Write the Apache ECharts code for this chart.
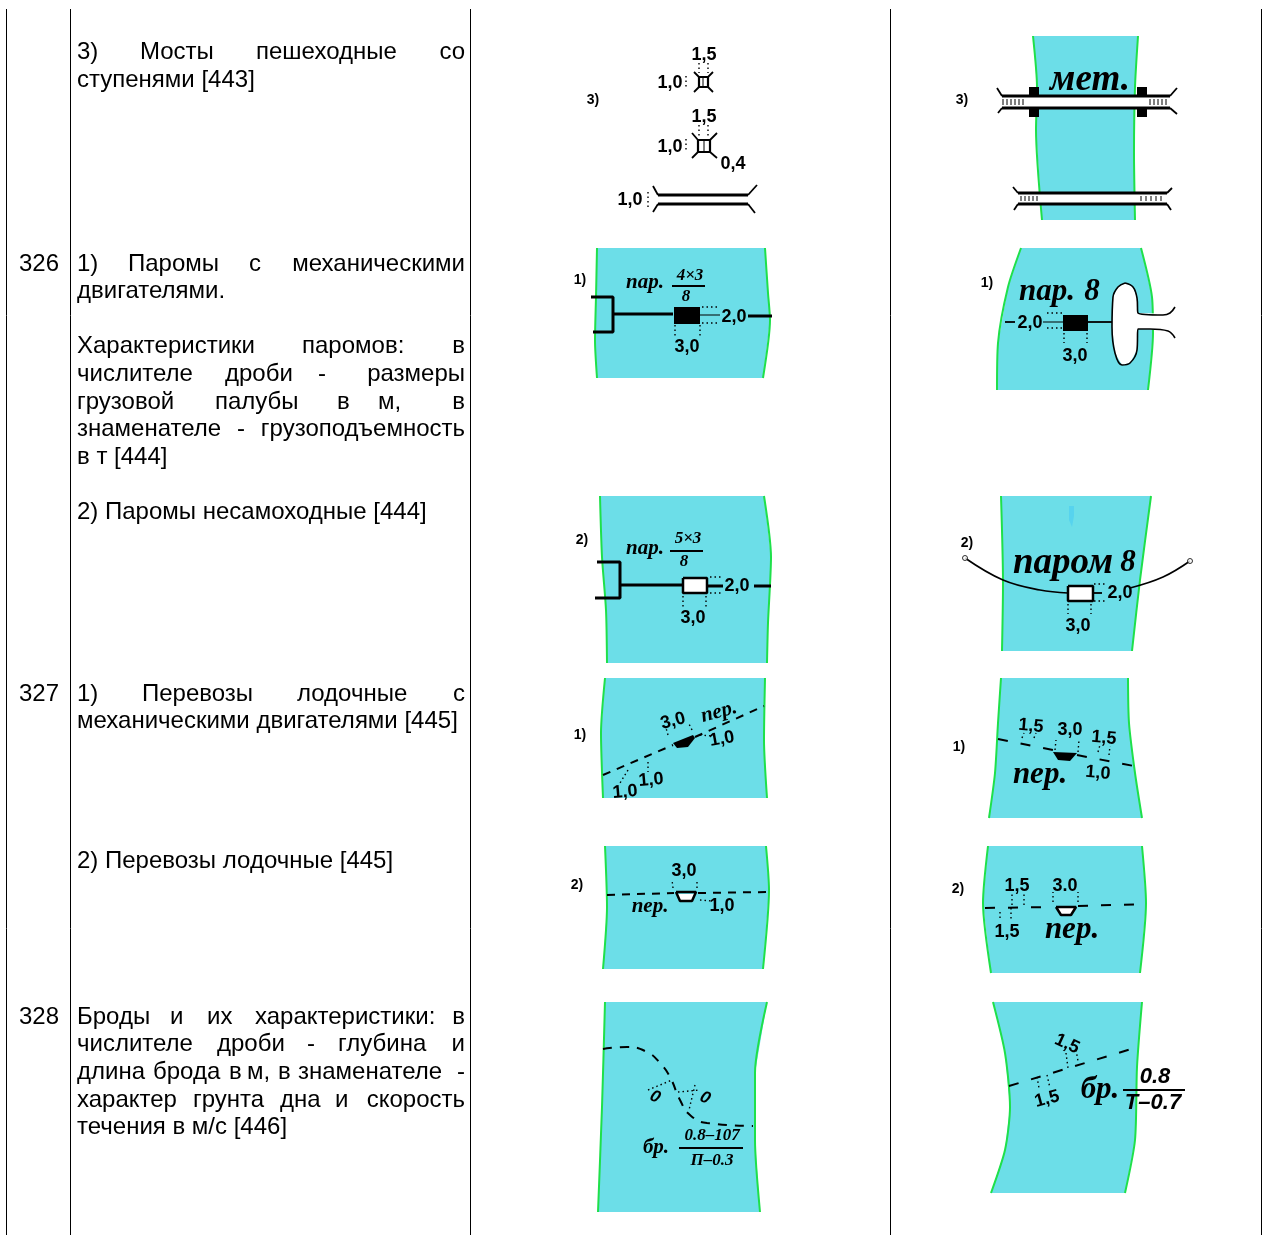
<!DOCTYPE html>
<html><head><meta charset="utf-8">
<style>html,body{margin:0;padding:0;background:#fff}#c{width:1262px;height:1235px}</style>
<script src="https://cdn.jsdelivr.net/npm/echarts@6/dist/echarts.min.js"></script>
</head><body><div id="c"></div>
<script>
// ---- table text: [text, x, y, horizontal anchor]
const rowNumbers = [["326",19,264],["327",19,694],["328",19,1017]];
const bodyWords = [
["3)",77,52],["Мосты",140,52],["пешеходные",256,52],["со",465,52,"right"],
["ступенями [443]",77,80],
["1)",77,264],["Паромы",128,264],["с",249,264],["механическими",465,264,"right"],
["двигателями.",77,291],
["Характеристики",77,346],["паромов:",302,346],["в",465,346,"right"],
["числителе",77,374],["дроби",225,374],["-",318,374],["размеры",465,374,"right"],
["грузовой",77,402],["палубы",215,402],["в",337,402],["м,",378,402],["в",465,402,"right"],
["знаменателе",77,429],["-",237,429],["грузоподъемность",465,429,"right"],
["в т [444]",77,457],
["2) Паромы несамоходные [444]",77,512],
["1)",77,694],["Перевозы",142,694],["лодочные",297,694],["с",465,694,"right"],
["механическими двигателями [445]",77,721],
["2) Перевозы лодочные [445]",77,861],
["Броды",77,1017],["и",170,1017],["их",207,1017],["характеристики:",255,1017],["в",465,1017,"right"],
["числителе",77,1044],["дроби",217,1044],["-",307,1044],["глубина",338,1044],["и",465,1044,"right"],
["длина",77,1072],["брода",153,1072],["в",229,1072],["м,",247,1072],["в",278,1072],["знаменателе",298,1072],["-",465,1072,"right"],
["характер",77,1100],["грунта",193,1100],["дна",280,1100],["и",335,1100],["скорость",465,1100,"right"],
["течения в м/с [446]",77,1127]
];
// ---- map drawing labels: [text, x, y, rotation in degrees]
const itemLabels = [["3)",593,100],["3)",962,100],["1)",580,280],["1)",987,283],["2)",582,540],["2)",967,543],
["1)",580,735],["1)",959,747],["2)",577,885],["2)",958,889]];
const dimLabels = [
["1,5",704,55],["1,0",670,83],["1,5",704,117],["1,0",670,147],["0,4",733,164],["1,0",630,200],
["2,0",734,317],["3,0",687,347],["2,0",1030,323],["3,0",1075,356],
["2,0",737,586],["3,0",693,618],["2,0",1120,593],["3,0",1078,626],
["3,0",673,721,15],["1,0",722,739,10],["1,0",651,780,5],["1,0",625,792,5],
["1,5",1031,726,-5],["3,0",1070,730],["1,5",1104,738,-5],["1,0",1098,773,-5],
["3,0",684,871],["1,0",722,906],["1,5",1017,886],["3.0",1065,886],["1,5",1007,932],
["1,5",1067,1044,-25],["1,5",1047,1099,15]
];
const roundLabels = [["0",655,1097,-25],["0",705,1098,-25]];
const nameLabelsHuge = [["мет.",1090,80],["паром",1063,563]];
const nameLabelsLarge = [["пар.",1047,292],["8",1092,292],["8",1128,563],["пер.",1040,775],["пер.",1072,930],["бр.",1100,1090]];
const nameLabelsSmall = [["пар.",645,283],["пар.",645,549],["пер.",719,712,15],["пер.",650,907],["бр.",656,1148]];
const fractionLabels = [["4×3",690,276],["8",686,297],["5×3",688,539],["8",684,562],["0.8–107",712,1136],["П–0.3",712,1161]];
const fractionLabelsLarge = [["0.8",1155,1077],["Т–0.7",1153,1103]];

// ---- river areas, as left bank and right bank outlines
const leftBanks = [
[[1033,36],[1037,87],[1036,130],[1042,220]],
[[597,248],[596,297],[595,340],[597,378]],
[[1021,248],[1008,287],[998,343],[997,390]],
[[600,496],[602,557],[606,610],[607,663]],
[[1001,496],[1003,583],[1002,651]],
[[605,678],[601,733],[603,798]],
[[1001,678],[998,723],[995,773],[989,818]],
[[605,846],[607,907],[603,969]],
[[988,846],[983,903],[991,973]],
[[605,1002],[602,1107],[598,1212]],
[[993,1002],[1005,1053],[1010,1107],[1005,1150],[991,1193]]
];
const rightBanks = [
[[1138,36],[1135,87],[1134,153],[1135,220]],
[[765,248],[768,293],[770,320],[763,378]],
[[1141,248],[1152,297],[1153,333],[1148,390]],
[[764,496],[771,557],[768,623],[767,663]],
[[1151,496],[1140,580],[1132,651]],
[[765,678],[764,740],[767,798]],
[[1128,678],[1129,723],[1135,773],[1142,818]],
[[766,846],[769,890],[763,969]],
[[1142,846],[1146,903],[1140,973]],
[[767,1002],[755,1073],[755,1140],[760,1212]],
[[1142,1002],[1137,1067],[1135,1140],[1125,1193]]
];
// ---- filled shapes
const whiteShapes = [
[[1125,283],[1133,287],[1137,298],[1138,313],[1175,314],[1175,330],[1138,329],[1137,350],[1130,363],[1122,365],[1115,353],[1112,327],[1113,297],[1118,287]],
[[1002,97],[1165,97],[1165,107],[1002,107]],
[[1018,194],[1167,194],[1167,203],[1018,203]],
[[658,196],[748,196],[748,203],[658,203]]
];
const whiteBoxes = [
[[683,578],[707,578],[707,593],[683,593]],
[[1068,586],[1093,586],[1093,601],[1068,601]],
[[676,894],[696,894],[692,901],[680,901]],
[[1056,908],[1076,908],[1071,915],[1061,915]]
];
const blackShapes = [
[[674,307],[700,307],[700,324],[674,324]],
[[1063,315],[1088,315],[1088,331],[1063,331]],
[[673,743],[693,735],[695,738],[688,747],[677,748]],
[[1053,752],[1077,753],[1070,761],[1058,760]],
[[1029,87],[1039,87],[1039,95],[1029,95]],
[[1029,108],[1039,108],[1039,117],[1029,117]],
[[1137,87],[1147,87],[1147,95],[1137,95]],
[[1137,108],[1147,108],[1147,117],[1137,117]]
];
const tintSpots = [[[1069,506],[1074,506],[1074,516],[1072,527],[1069,520]]];

// ---- strokes
const tableRules = [[[6.5,9],[6.5,1235]],[[70.5,9],[70.5,1235]],[[470.5,9],[470.5,1235]],[[890.5,9],[890.5,1235]],[[1261.5,9],[1261.5,1235]]];
const heavyLines = [
[[591,297],[613,297],[613,332],[593,332]],
[[613,314],[673,314]],[[748,316],[772,316]],
[[597,562],[620,562],[620,598],[595,598]],
[[620,585],[683,585]],[[707,586],[723,586]],[[754,586],[771,586]],
[[658,195],[748,195]],[[658,204],[748,204]],
[[1002,96],[1170,96]],[[1002,108],[1170,108]],
[[1018,193],[1167,193]],[[1018,204],[1167,204]]
];
const boxOutlines = [
[[683,578],[707,578],[707,593],[683,593],[683,578]],
[[1068,586],[1093,586],[1093,601],[1068,601],[1068,586]],
[[676,892],[696,892],[692,901],[680,901],[676,892]],
[[1056,907],[1076,907],[1071,915],[1061,915],[1056,907]]
];
const pierSymbols = [
[[699,77],[708,77],[708,87],[699,87],[699,77]],
[[698,140],[710,140],[710,152],[698,152],[698,140]]
];
const mediumLines = [
[[1088,322],[1112,322]],[[1005,322],[1015,322]],[[1093,593],[1102,593]],
[[679,1148],[743,1148]],[[672,286],[705,286]],[[670,551],[703,551]],
[[1123,1090],[1185,1090]],
[[653,186],[658,195]],[[653,212],[658,204]],[[748,195],[757,185]],[[748,204],[755,213]],
[[694,72],[699,77]],[[713,72],[708,77]],[[694,92],[699,87]],[[713,92],[708,87]],
[[692,133],[698,140]],[[717,133],[710,140]],[[692,158],[698,152]],[[717,158],[710,152]],
[[997,88],[1002,96]],[[998,113],[1002,108]],[[1170,96],[1177,88]],[[1170,108],[1177,114]],
[[1013,187],[1018,193]],[[1014,210],[1018,204]],[[1167,193],[1172,188]],[[1167,204],[1171,210]]
];
const thinLines = [
[[700,315],[720,315]],[[1043,322],[1063,322]],
[[703,78],[703,86]],[[704,141],[704,151]],
[[1003,99],[1003,105]],[[1007,99],[1007,105]],[[1011,99],[1011,105]],[[1015,99],[1015,105]],[[1019,99],[1019,105]],[[1023,99],[1023,105]],
[[1150,99],[1150,105]],[[1154,99],[1154,105]],[[1158,99],[1158,105]],[[1162,99],[1162,105]],[[1166,99],[1166,105]],
[[1021,196],[1021,201]],[[1025,196],[1025,201]],[[1029,196],[1029,201]],[[1033,196],[1033,201]],[[1037,196],[1037,201]],
[[1141,196],[1141,201]],[[1146,196],[1146,201]],[[1151,196],[1151,201]],[[1156,196],[1156,201]],[[1161,196],[1161,201]]
];
const curvedLines = [
[[1125,283],[1133,287],[1137,298],[1138,313],[1163,315],[1170,313],[1175,307]],
[[1175,338],[1168,331],[1150,329],[1138,329],[1137,350],[1130,363],[1122,365],[1115,353],[1112,327],[1113,297],[1118,287],[1125,283]],
[[965,558],[1003,580],[1040,590],[1068,593]],
[[1130,588],[1163,577],[1190,561]]
];
const dashedLinesShort = [
[[603,775],[673,745]],[[695,737],[764,706]],
[[607,895],[674,893]],[[698,893],[768,892]]
];
const dashedLinesLong = [
[[998,739],[1053,750]],[[1077,755],[1134,766]],
[[985,908],[1054,907]],[[1078,906],[1147,904]],
[[1009,1086],[1138,1047]]
];
const dashedCurve = [[603,1049],[627,1047],[647,1052],[660,1063],[670,1077],[680,1100],[690,1115],[707,1123],[753,1126]];
const dottedLines = [
[[699,63],[699,73]],[[708,63],[708,73]],[[686,76],[686,88]],
[[699,125],[699,136]],[[708,125],[708,136]],[[686,139],[686,151]],
[[648,192],[648,208]],
[[702,307],[718,307]],[[702,323],[718,323]],[[675,325],[675,337]],[[700,325],[700,337]],
[[1047,313],[1062,313]],[[1047,328],[1062,328]],[[1064,333],[1064,343]],[[1087,333],[1087,343]],
[[710,577],[723,577]],[[710,593],[723,593]],[[683,596],[683,607]],[[706,596],[706,607]],
[[1094,584],[1106,584]],[[1094,601],[1106,601]],[[1068,604],[1068,614]],[[1091,604],[1091,614]],
[[668,735],[666,728]],[[692,730],[689,724]],[[628,770],[620,783]],[[648,762],[648,772]],[[700,735],[712,736]],
[[1022,738],[1024,733]],[[1034,738],[1036,733]],[[1055,750],[1056,740]],[[1078,752],[1079,740]],[[1098,752],[1100,745]],[[1109,755],[1110,746]],
[[673,888],[672,880]],[[697,888],[697,880]],[[700,900],[712,901]],
[[1012,905],[1012,893]],[[1024,905],[1024,893]],[[1000,912],[1000,921]],[[1011,908],[1011,921]],[[1053,902],[1053,892]],[[1078,902],[1078,892]],
[[1037,1077],[1039,1088]],[[1047,1075],[1050,1088]],[[1066,1053],[1068,1068]],[[1076,1050],[1078,1061]],
[[648,1090],[672,1080]],[[678,1092],[700,1090]],[[695,1085],[689,1110]]
];
const anchorPoints = [[965,558],[1190,561]];

// ---- colours and drawing
const black = "#000";
const water = "#6cdee8", bank = "#1fe04a";
const sans = "'Liberation Sans', Arial, sans-serif";
const serif = "'Liberation Serif', 'DejaVu Serif', serif";

function polySeries(list, fill, z) {
  return {type:'custom', coordinateSystem:'cartesian2d', silent:true, z, clip:false,
    data:list.map((p,i)=>[p[0][0],p[0][1],i]), encode:{x:0,y:1},
    renderItem:(params,api)=>({type:'polygon', shape:{points:list[api.value(2)].map(q=>api.coord(q))},
      style:{fill}})};
}
function textSeries(list, font, z, defaultAlign, baseline) {
  return {type:'custom', coordinateSystem:'cartesian2d', silent:true, z, clip:false,
    data:list.map((t,i)=>[t[1],t[2],i]), encode:{x:0,y:1},
    renderItem:(params,api)=>{const t=list[api.value(2)], c=api.coord([t[1],t[2]]);
      return {type:'text', x:c[0], y:c[1], rotation:(baseline?0:(t[3]||0))*Math.PI/180,
        style:{text:t[0], font, fill:black,
          textAlign:baseline?(t[3]||'left'):(defaultAlign||'center'), textVerticalAlign:'middle'}};}};
}
function lineSeries(list, width, z, type, smooth) {
  return list.map(pts=>({type:'line', data:pts, symbol:'none', silent:true, z, smooth:smooth||false, clip:false,
    animation:false, lineStyle:{color:black,width,type:type||'solid'}}));
}
function bankSeries(list) {
  return list.map(pts=>({type:'line', data:pts, symbol:'none', silent:true, z:2, smooth:0.25, clip:false,
    animation:false, lineStyle:{color:bank,width:2}}));
}
const waterAreas = leftBanks.map((l,i)=>l.concat(rightBanks[i].slice().reverse()));

const chart = echarts.init(document.getElementById('c'), null, {renderer:'canvas'});
chart.setOption({
  animation:false, backgroundColor:'#fff',
  grid:{left:0,top:0,right:0,bottom:0},
  xAxis:{type:'value',min:0,max:1262,show:false},
  yAxis:{type:'value',min:0,max:1235,inverse:true,show:false},
  tooltip:{show:false},
  series:[
    polySeries(waterAreas, water, 1),
    polySeries(tintSpots, "#57d3ee", 1.5),
    ...bankSeries(leftBanks), ...bankSeries(rightBanks),
    ...lineSeries(tableRules, 1, 2),
    polySeries(whiteShapes, "#fff", 3),
    polySeries(whiteBoxes, "#fff", 3),
    ...lineSeries(thinLines, 1, 4),
    ...lineSeries(heavyLines, 3, 5),
    ...lineSeries(boxOutlines, 2.5, 5),
    ...lineSeries(pierSymbols, 2.2, 5),
    ...lineSeries(mediumLines, 1.8, 5),
    ...lineSeries(curvedLines, 1.6, 5, 'solid', 0.4),
    ...lineSeries(dashedLinesShort, 2, 5, [8,7]),
    ...lineSeries(dashedLinesLong, 2, 5, [10,13]),
    ...lineSeries([dashedCurve], 2, 5, [9,8], 0.5),
    ...lineSeries(dottedLines, 1.4, 5, [1.5,3]),
    polySeries(blackShapes, black, 6),
    {type:'scatter', data:anchorPoints, symbol:'circle', symbolSize:5, silent:true, z:6,
     itemStyle:{color:'#fff',borderColor:black,borderWidth:1}},
    textSeries(rowNumbers, "24px "+sans, 8, 'left', true),
    textSeries(bodyWords, "24px "+sans, 8, 'left', true),
    textSeries(itemLabels, "bold 14px "+sans, 8),
    textSeries(dimLabels, "bold 18px "+sans, 8),
    textSeries(roundLabels, "bold italic 17px "+sans, 8),
    textSeries(nameLabelsHuge, "bold italic 37px "+serif, 8),
    textSeries(nameLabelsLarge, "bold italic 31px "+serif, 8),
    textSeries(nameLabelsSmall, "bold italic 21px "+serif, 8),
    textSeries(fractionLabels, "bold italic 17px "+serif, 8),
    textSeries(fractionLabelsLarge, "bold italic 22px "+sans, 8)
  ]
});
</script></body></html>
